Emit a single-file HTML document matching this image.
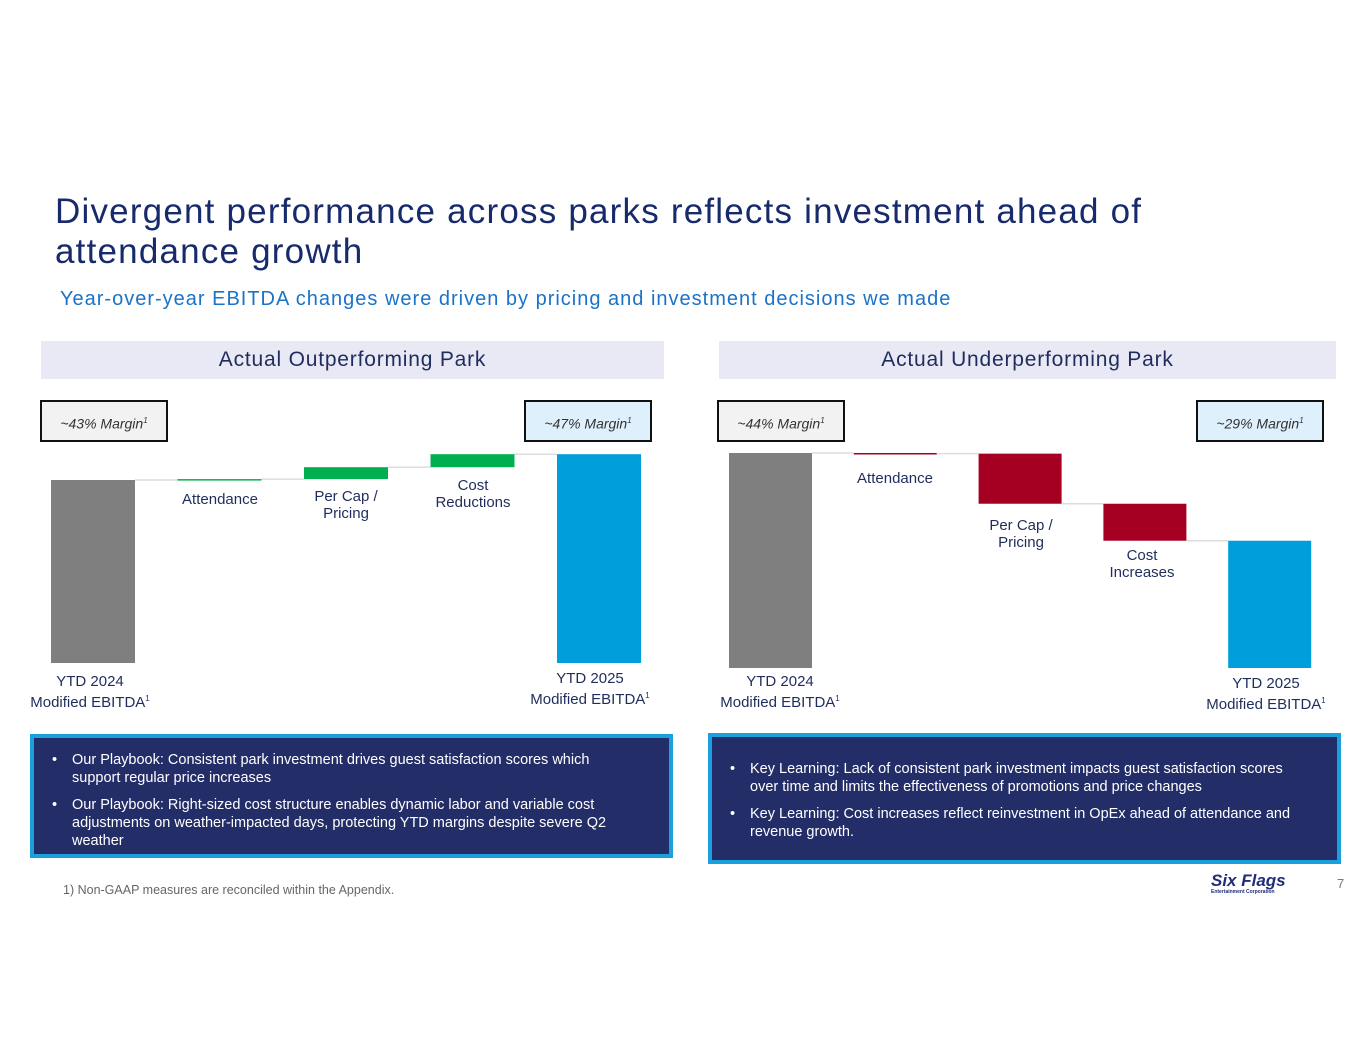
<!DOCTYPE html>
<html><head><meta charset="utf-8">
<style>
body{margin:0;width:1365px;height:1055px;background:#fff;font-family:"Liberation Sans",sans-serif;position:relative;overflow:hidden}
.abs{position:absolute}
.title{left:55px;top:192px;font-size:35px;color:#172a6b;line-height:40px;letter-spacing:1.2px}
.sub{left:60px;top:288px;font-size:20px;color:#1a73c8;letter-spacing:1px}
.hdr{background:#e8e9f5;color:#1f2d5c;font-size:21px;text-align:center;line-height:38px;height:38px;top:341px;letter-spacing:0.8px}
.mbox{border:2px solid #111;font-style:italic;font-size:14px;color:#333;text-align:center;line-height:38px;height:38px;top:400px;width:124px}
.mbox sup{font-size:8px}
.lbl{font-size:15px;color:#1f2d5c;text-align:center;line-height:17px}
.lbl sup{font-size:8px}
.note{background:#232d67;border:4px solid #1aa0dc;color:#fff;font-size:14.5px;line-height:18px;top:734px;height:124px;box-sizing:border-box}
.note ul{margin:0;padding:0 0 0 38px;list-style:none}
.note li{position:relative;margin-bottom:9px}
.note li:before{content:"•";position:absolute;left:-20px}
</style></head><body>
<div class="abs title">Divergent performance across parks reflects investment ahead of<br>attendance growth</div>
<div class="abs sub">Year-over-year EBITDA changes were driven by pricing and investment decisions we made</div>
<div class="abs hdr" style="left:41px;width:623px">Actual Outperforming Park</div>
<div class="abs hdr" style="left:719px;width:617px">Actual Underperforming Park</div>
<div class="abs mbox" style="left:40px;background:#f2f2f2">~43% Margin<sup>1</sup></div>
<div class="abs mbox" style="left:524px;background:#dff0fd">~47% Margin<sup>1</sup></div>
<div class="abs mbox" style="left:717px;background:#f2f2f2">~44% Margin<sup>1</sup></div>
<div class="abs mbox" style="left:1196px;background:#dff0fd">~29% Margin<sup>1</sup></div>
<svg class="abs" style="left:0;top:0" width="1365" height="1055" id="chart"></svg>
<div class="abs lbl" style="left:20px;top:673px;width:140px">YTD 2024<br>Modified EBITDA<sup>1</sup></div>
<div class="abs lbl" style="left:170px;top:491px;width:100px">Attendance</div>
<div class="abs lbl" style="left:296px;top:488px;width:100px">Per Cap /<br>Pricing</div>
<div class="abs lbl" style="left:423px;top:477px;width:100px">Cost<br>Reductions</div>
<div class="abs lbl" style="left:520px;top:670px;width:140px">YTD 2025<br>Modified EBITDA<sup>1</sup></div>
<div class="abs lbl" style="left:710px;top:673px;width:140px">YTD 2024<br>Modified EBITDA<sup>1</sup></div>
<div class="abs lbl" style="left:845px;top:470px;width:100px">Attendance</div>
<div class="abs lbl" style="left:971px;top:517px;width:100px">Per Cap /<br>Pricing</div>
<div class="abs lbl" style="left:1092px;top:547px;width:100px">Cost<br>Increases</div>
<div class="abs lbl" style="left:1196px;top:675px;width:140px">YTD 2025<br>Modified EBITDA<sup>1</sup></div>
<div class="abs note" style="left:30px;width:643px"><ul style="padding-top:13px;padding-right:30px">
<li>Our Playbook: Consistent park investment drives guest satisfaction scores which support regular price increases</li>
<li>Our Playbook: Right-sized cost structure enables dynamic labor and variable cost adjustments on weather-impacted days, protecting YTD margins despite severe Q2 weather</li></ul></div>
<div class="abs note" style="left:708px;width:633px;top:733px;height:131px"><ul style="padding-top:23px;padding-right:40px">
<li>Key Learning: Lack of consistent park investment impacts guest satisfaction scores over time and limits the effectiveness of promotions and price changes</li>
<li>Key Learning: Cost increases reflect reinvestment in OpEx ahead of attendance and revenue growth.</li></ul></div>
<div class="abs" style="left:63px;top:883px;font-size:12.5px;color:#666">1) Non-GAAP measures are reconciled within the Appendix.</div>
<div class="abs" style="left:1211px;top:873px;color:#1f2d7a;font-weight:bold;font-style:italic;font-size:17px;line-height:16px">Six Flags<div style="font-size:5px;line-height:6px;font-style:normal">Entertainment Corporation</div></div>
<div class="abs" style="left:1337px;top:876px;font-size:13px;color:#777">7</div>
<script>
const categories=["YTD 2024","Attendance","Per Cap / Pricing","Cost","YTD 2025"];
const leftStart=100;
const leftDeltas=[0.5,6.5,7.1];
const rightStart=100;
const rightDeltas=[-0.3,-23.3,-17.2];
const svg=document.getElementById('chart');
const NS="http://www.w3.org/2000/svg";
function draw(cfg){
  const y=v=>cfg.base-v*cfg.ppu;
  const xs=i=>cfg.x0+i*cfg.step;
  let cum=cfg.start;
  const vals=[];
  vals.push([0,cum]);
  cfg.deltas.forEach(d=>{vals.push([cum,cum+d]);cum+=d;});
  vals.push([0,cum]);
  vals.forEach((v,i)=>{
    const top=y(Math.max(v[0],v[1])),bot=y(Math.min(v[0],v[1]));
    let col=(i==0)?"#7f7f7f":(i==vals.length-1)?"#009fdb":(v[1]>=v[0]?cfg.up:cfg.down);
    const r=document.createElementNS(NS,'rect');
    r.setAttribute('x',xs(i));r.setAttribute('y',top);
    r.setAttribute('width',cfg.w);r.setAttribute('height',Math.max(bot-top,1.5));
    r.setAttribute('fill',col);
    
    
    svg.appendChild(r);
    if(i<vals.length-1){
      const l=document.createElementNS(NS,'line');
      const lv=y(v[1]);
      l.setAttribute('x1',xs(i)+cfg.w);l.setAttribute('x2',xs(i+1));
      l.setAttribute('y1',lv);l.setAttribute('y2',lv);
      l.setAttribute('stroke','#ddd');l.setAttribute('stroke-width','1.5');
      
      
      svg.appendChild(l);
    }
  });
}
draw({side:'left',start:leftStart,deltas:leftDeltas,base:663,ppu:1.83,x0:51,step:126.5,w:84,up:"#00b050",down:"#a50021"});
draw({side:'right',start:rightStart,deltas:rightDeltas,base:668,ppu:2.15,x0:729,step:124.8,w:83,up:"#00b050",down:"#a50021"});
</script>
</body></html>
